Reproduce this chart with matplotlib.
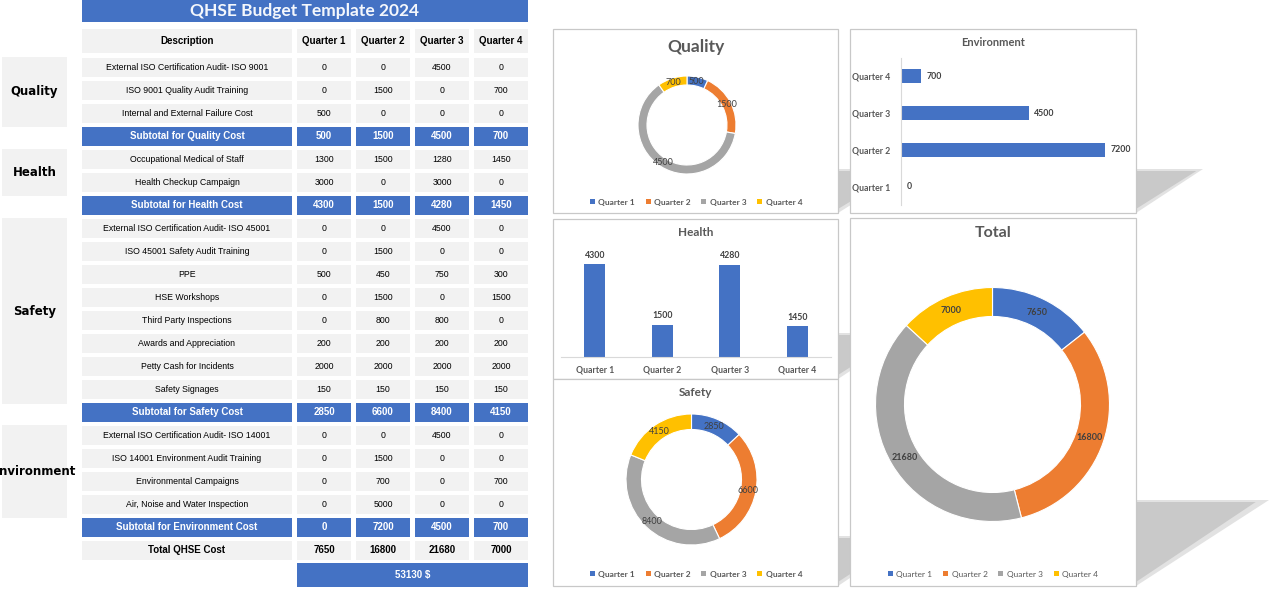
import matplotlib
matplotlib.use('Agg')
import matplotlib.pyplot as plt
from matplotlib.patches import Rectangle, Polygon, Patch
import numpy as np

# QHSE budget dashboard: table on the left, 5 small charts on the right
W, H = 1275, 597

BLUE = '#4472C4'
CELL = '#F2F2F2'
Q_COLORS = ['#4472C4', '#ED7D31', '#A5A5A5', '#FFC000']
TXT = '#595959'

quarters = ['Quarter 1', 'Quarter 2', 'Quarter 3', 'Quarter 4']

quality_items = ['External ISO Certification Audit- ISO 9001',
                 'ISO 9001 Quality Audit Training',
                 'Internal and External Failure Cost']
quality_vals = [[0, 0, 4500, 0],
                [0, 1500, 0, 700],
                [500, 0, 0, 0]]

health_items = ['Occupational Medical of Staff',
                'Health Checkup Campaign']
health_vals = [[1300, 1500, 1280, 1450],
               [3000, 0, 3000, 0]]

safety_items = ['External ISO Certification Audit- ISO 45001',
                'ISO 45001 Safety Audit Training',
                'PPE',
                'HSE Workshops',
                'Third Party Inspections',
                'Awards and Appreciation',
                'Petty Cash for Incidents',
                'Safety Signages']
safety_vals = [[0, 0, 4500, 0],
               [0, 1500, 0, 0],
               [500, 450, 750, 300],
               [0, 1500, 0, 1500],
               [0, 800, 800, 0],
               [200, 200, 200, 200],
               [2000, 2000, 2000, 2000],
               [150, 150, 150, 150]]

env_items = ['External ISO Certification Audit- ISO 14001',
             'ISO 14001 Environment Audit Training',
             'Environmental Campaigns',
             'Air, Noise and Water Inspection']
env_vals = [[0, 0, 4500, 0],
            [0, 1500, 0, 0],
            [0, 700, 0, 700],
            [0, 5000, 0, 0]]

sections = [('Quality', quality_items, quality_vals),
            ('Health', health_items, health_vals),
            ('Safety', safety_items, safety_vals),
            ('Environment', env_items, env_vals)]

subtotals = {name: np.sum(vals, axis=0) for name, _, vals in sections}
totals = sum(subtotals.values())
grand_total = int(totals.sum())

# layout (pixels, origin top-left)
cat_span = {'Quality': (57, 127), 'Health': (149, 196),
            'Safety': (218, 404), 'Environment': (425, 518)}
cols = [(82, 292), (297, 351), (356, 410), (415, 469), (474, 528)]

fig = plt.figure(figsize=(W / 100, H / 100), dpi=100)
fig.patch.set_facecolor('white')


def fig_axes(x0, y0, x1, y1):
    return fig.add_axes([x0 / W, 1 - y1 / H, (x1 - x0) / W, (y1 - y0) / H])


bg = fig.add_axes([0, 0, 1, 1])
bg.set_xlim(0, W)
bg.set_ylim(H, 0)
bg.axis('off')

TFONT = 'Liberation Sans'


def cell(x0, y0, x1, y1, color, text='', tcolor='black', size=6.5, bold=False,
         family=TFONT):
    r = Rectangle((x0, y0), x1 - x0, y1 - y0, facecolor=color, edgecolor='none', zorder=1)
    bg.add_patch(r)
    if text != '':
        t = bg.text((x0 + x1) / 2, (y0 + y1) / 2, text, ha='center', va='center',
                    color=tcolor, fontsize=size, family=family,
                    fontweight='bold' if bold else 'normal', zorder=2)
        t.set_clip_path(r)


# title bar
cell(82, 0, 528, 22, BLUE, 'QHSE Budget Template 2024', tcolor='#F4F7FC',
     size=12.5, bold=True, family='Lato')

# header
head = ['Description'] + quarters
for (x0, x1), h in zip(cols, head):
    cell(x0, 29, x1, 53, CELL, h, size=7, bold=True)

rows = []
for name, items, vals in sections:
    for it, v in zip(items, vals):
        rows.append(('item', it, v))
    rows.append(('sub', 'Subtotal for %s Cost' % name, subtotals[name]))
rows.append(('total', 'Total QHSE Cost', totals))

for k, (kind, label, vals) in enumerate(rows):
    top = 57.5 + 23 * k
    bot = top + 19.5
    if kind == 'item':
        fc, tc, sz, b = CELL, 'black', 6.3, False
    elif kind == 'sub':
        fc, tc, sz, b = BLUE, 'white', 7, True
    else:
        fc, tc, sz, b = CELL, 'black', 7, True
    cell(cols[0][0], top, cols[0][1], bot, fc, label, tc, sz, b)
    for (x0, x1), v in zip(cols[1:], vals):
        cell(x0, top, x1, bot, fc, str(int(v)), tc, sz, b)

cell(297, 563, 528, 587, BLUE, '%d $' % grand_total, tcolor='white', size=7, bold=True)

# category labels; the long one is cut by its cell, as in the sheet
for name, (y0, y1) in cat_span.items():
    cell(2, y0, 67, y1, CELL, name, size=8.5, bold=True, family='DejaVu Sans')

# chart frames with the skewed drop shadows behind them
boxes = {'Quality': (553, 29, 838, 213), 'Environment': (850, 29, 1136, 213),
         'Health': (553, 219, 838, 379), 'Safety': (553, 379, 838, 586),
         'Total': (850, 218, 1136, 586)}
shadows = {'Quality': (44, 70), 'Environment': (44, 67), 'Health': (46, 70),
           'Safety': (50, 75), 'Total': (86, 133)}
for name, (x0, y0, x1, y1) in boxes.items():
    sh, sl = shadows[name]
    bg.add_patch(Polygon([(x1, y1 - sh), (x1 + sl, y1 - sh), (x1, y1)],
                         closed=True, facecolor='#e2e2e2', edgecolor='none',
                         zorder=0.4))
    bg.add_patch(Polygon([(x1, y1 - sh + 2), (x1 + sl * 0.9, y1 - sh + 2), (x1, y1 - 4)],
                         closed=True, facecolor='#c9c9c9', edgecolor='none',
                         zorder=0.5))
for name, (x0, y0, x1, y1) in boxes.items():
    bg.add_patch(Rectangle((x0, y0), x1 - x0, y1 - y0, facecolor='white',
                           edgecolor='#c8c8c8', linewidth=0.9, zorder=1))

CFONT = 'Lato'


def chart_title(name, y, size, bold=True):
    x0, _, x1, _ = boxes[name]
    bg.text((x0 + x1) / 2, y, name, ha='center', va='center', fontsize=size,
            family=CFONT, fontweight='bold' if bold else 'normal', color=TXT, zorder=3)


def quarter_legend(cx, cy, bold=True):
    handles = [Patch(facecolor=c, edgecolor='none') for c in Q_COLORS]
    fig.legend(handles, quarters, loc='center', bbox_to_anchor=(cx / W, 1 - cy / H),
               ncol=4, frameon=False, handlelength=0.6, handleheight=0.6,
               handletextpad=0.4, columnspacing=1.3,
               prop={'family': CFONT, 'size': 6,
                     'weight': 'bold' if bold else 'normal'},
               labelcolor=TXT)


def donut(cx, cy, r_out, r_in, values, lsize, lbold=False):
    ax = fig_axes(cx - r_out, cy - r_out, cx + r_out, cy + r_out)
    width = (r_out - r_in) / r_out
    wedges, _ = ax.pie(values, colors=Q_COLORS, startangle=90, counterclock=False,
                       radius=1, wedgeprops=dict(width=width, edgecolor='white',
                                                 linewidth=0.8))
    ax.set_xlim(-1, 1)
    ax.set_ylim(-1, 1)
    rm = 1 - width / 2
    for w, v in zip(wedges, values):
        a = np.deg2rad((w.theta1 + w.theta2) / 2)
        ax.text(rm * np.cos(a), rm * np.sin(a), str(int(v)), ha='center', va='center',
                fontsize=lsize, family=CFONT, color='#404040',
                fontweight='bold' if lbold else 'normal')
    return ax


# Quality donut
chart_title('Quality', 47, 12.5)
donut(687, 125, 49, 40, subtotals['Quality'], 6.5)
quarter_legend(696, 202)

# Safety donut
chart_title('Safety', 393, 8.5)
donut(691.5, 479.5, 65.5, 50, subtotals['Safety'], 6.5)
quarter_legend(696, 574)

# Total donut
chart_title('Total', 233, 11.5)
donut(992.5, 404.5, 117, 88, totals, 6.5, lbold=True)
quarter_legend(993, 574, bold=False)

# Environment horizontal bars
chart_title('Environment', 43, 8)
ax = fig_axes(901, 58, 1128, 205)
ypos = np.arange(len(quarters))
env_sub = subtotals['Environment']
ax.barh(ypos, env_sub, height=0.38, color=BLUE)
ax.set_xlim(0, 8000)
ax.set_ylim(-0.5, 3.5)
ax.set_yticks(ypos)
ax.set_yticklabels(quarters, fontsize=6.3, family=CFONT, color=TXT, fontweight='bold')
ax.tick_params(axis='y', length=0, pad=8)
ax.set_xticks([])
for s in ['top', 'right', 'bottom']:
    ax.spines[s].set_visible(False)
ax.spines['left'].set_color('#d9d9d9')
ax.patch.set_alpha(0)
for y, v in zip(ypos, env_sub):
    ax.annotate(str(int(v)), (v, y), xytext=(4, 0), textcoords='offset points',
                ha='left', va='center', fontsize=6.3, family=CFONT,
                color='#404040', fontweight='bold')

# Health vertical bars
chart_title('Health', 233, 8.5)
ax = fig_axes(561, 249, 831, 357)
xpos = np.arange(len(quarters))
health_sub = subtotals['Health']
ax.bar(xpos, health_sub, width=0.31, color=BLUE)
ax.set_xlim(-0.5, 3.5)
ax.set_ylim(0, 5000)
ax.set_xticks(xpos)
ax.set_xticklabels(quarters, fontsize=6.3, family=CFONT, color=TXT, fontweight='bold')
ax.tick_params(axis='x', length=0, pad=6)
ax.set_yticks([])
for s in ['top', 'right', 'left']:
    ax.spines[s].set_visible(False)
ax.spines['bottom'].set_color('#d9d9d9')
ax.patch.set_alpha(0)
for x, v in zip(xpos, health_sub):
    ax.annotate(str(int(v)), (x, v), xytext=(0, 3), textcoords='offset points',
                ha='center', va='bottom', fontsize=6.3, family=CFONT,
                color='#404040', fontweight='bold')

fig.savefig('out.png', dpi=100)
